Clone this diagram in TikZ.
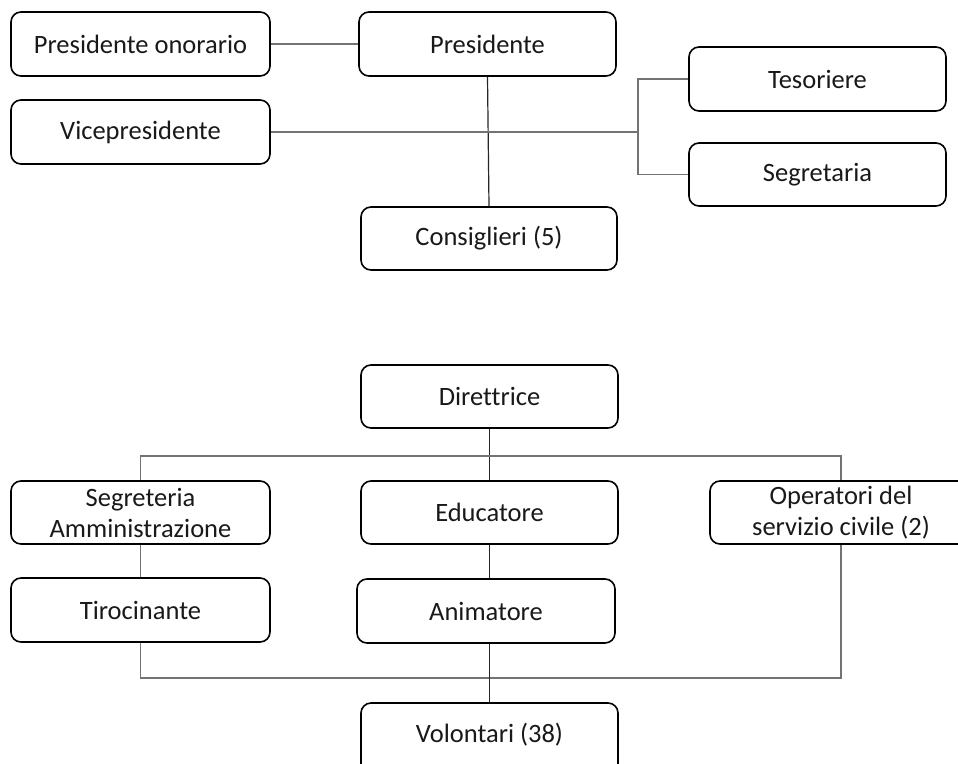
\documentclass[tikz,border=0pt]{standalone}
\usepackage{fontspec}
\setmainfont{Carlito}[Ligatures=NoCommon]
\begin{document}
\begin{tikzpicture}[x=1pt,y=-1pt,
  box/.style={draw=black, line width=1.6pt, rounded corners=10pt, inner sep=0pt,
    align=center, text=black!90, font=\fontsize{26.5}{31}\selectfont},
  conn/.style={draw=black!55, line width=1.2pt},
  connd/.style={draw=black!85, line width=1.2pt}]
\useasboundingbox (0,0) rectangle (958,763);
\clip (0,0) rectangle (958,763);
\fill[white] (0,0) rectangle (958,763);
% top chart
\node[box, minimum width=259pt, minimum height=64pt] (pon)  at (140.5,44)  {Presidente onorario};
\node[box, minimum width=257pt, minimum height=64pt] (pres) at (487.5,44)  {Presidente};
\node[box, minimum width=259pt, minimum height=64pt] (vice) at (140.5,132) {Vicepresidente};
\node[box, minimum width=257pt, minimum height=64pt] (tes)  at (817.5,79)  {Tesoriere};
\node[box, minimum width=257pt, minimum height=63pt] (seg)  at (817.5,174.5) {Segretaria};
\node[box, minimum width=256pt, minimum height=63pt] (cons) at (489,238.5) {Consiglieri (5)};
% bottom chart
\node[box, minimum width=257pt, minimum height=63pt] (dir)    at (489.5,396.5) {Direttrice};
\node[box, minimum width=259pt, minimum height=63pt] (segamm) at (140.5,512.5) {Segreteria\\Amministrazione};
\node[box, minimum width=257pt, minimum height=63pt] (edu)    at (489.5,512.5) {Educatore};
\node[box, minimum width=262pt, minimum height=63pt] (oper)    at (841,512.5)   {Operatori del\\servizio civile (2)};
\node[box, minimum width=259pt, minimum height=64pt] (tiro)   at (140.5,610)   {Tirocinante};
\node[box, minimum width=258pt, minimum height=64pt] (anim)   at (486,611)     {Animatore};
\node[box, minimum width=257pt, minimum height=72pt] (vol)    at (489.5,739)   {};
\node[text=black!90, font=\fontsize{26.5}{31}\selectfont] (voltext) at (489.5,734.5) {Volontari (38)};
% coordinates
\coordinate (br)  at (638,132);
\coordinate (top) at (489.5,456);
\coordinate (bot) at (489.5,678);
% connectors top
\draw[conn] (pon.east) -- (pres.west);
\draw[connd] (pres.south) -- (cons.north);
\draw[conn] (vice.east) -- (br);
\draw[conn] (tes.west) -- (tes.west -| br) -- (seg.west -| br) -- (seg.west);
% connectors bottom
\draw[connd] (dir.south) -- (edu.north);
\draw[conn] (segamm.north) |- (top) -| (oper.north);
\draw[conn] (segamm.south) -- (tiro.north);
\draw[connd] (edu.south) -- (edu.south |- anim.north);
\draw[conn] (tiro.south) |- (bot) -| (oper.south);
\draw[connd] (vol.north |- anim.south) -- (vol.north);
\end{tikzpicture}
\end{document}
